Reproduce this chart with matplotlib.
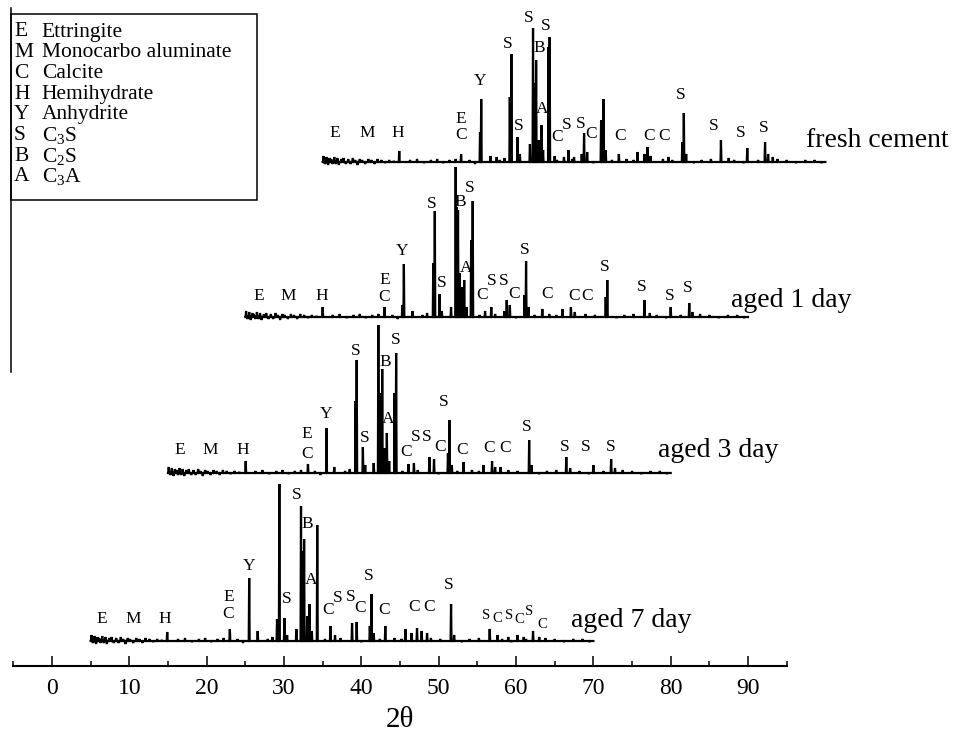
import matplotlib
matplotlib.use('Agg')
import matplotlib.pyplot as plt
from matplotlib.lines import Line2D
from matplotlib.patches import Rectangle

plt.rcParams['font.family'] = ['Liberation Serif', 'DejaVu Serif']
plt.rcParams['mathtext.fontset'] = 'custom'
plt.rcParams['mathtext.rm'] = 'Liberation Serif'
plt.rcParams['mathtext.it'] = 'Liberation Serif:italic'

# ---------------- data ----------------
sample_names = ['fresh cement', 'aged 1 day', 'aged 3 day', 'aged 7 day']
x_shift = [30, 20, 10, 0]            # horizontal stacking offset (deg)
y_base = [504, 349, 193, 25]          # vertical stacking offset (a.u.)
two_theta_start, two_theta_end = 5.0, 70.0

# peak lists (2theta, intensity above baseline, a.u.)
fresh_pos = [14.9, 22.9, 25.35, 25.5, 26.7, 27.5, 29.2, 29.4, 30.2, 30.5, 31.8, 32.2, 32.4, 32.6,
             32.9, 33.3, 33.5, 34.2, 34.35, 35.0, 36.2, 36.8, 37.5, 38.5, 38.8, 39.2, 41.0, 41.3,
             41.6, 43.3, 45.7, 46.6, 47.0, 47.4, 49.7, 51.5, 51.7, 52.0, 56.5, 57.5, 59.9, 62.2,
             62.6, 63.2]
fresh_int = [11, 8, 30, 63, 6, 5, 65, 108, 25, 8, 18, 134, 79, 102,
             22, 37, 12, 115, 125, 6, 5, 12, 5, 8, 29, 10, 42, 63,
             12, 8, 10, 8, 15, 6, 5, 20, 49, 8, 22, 4, 14, 20,
             8, 5]

day1_pos = [15.0, 23.0, 25.3, 25.5, 26.6, 29.3, 29.5, 30.1, 30.4, 31.6, 32.2, 32.35, 32.5, 32.7,
            33.0, 33.3, 33.6, 34.2, 34.4, 36.0, 36.8, 38.5, 38.8, 39.2, 41.1, 41.3, 41.6, 43.4,
            46.0, 47.1, 47.6, 51.6, 51.8, 56.6, 57.3, 60.0, 62.4, 62.8]
day1_int = [10, 10, 12, 53, 6, 54, 106, 23, 6, 10, 150, 110, 107, 44,
            30, 37, 10, 77, 116, 6, 10, 6, 17, 12, 22, 56, 10, 8,
            8, 10, 5, 20, 37, 17, 4, 10, 14, 5]

day3_pos = [15.05, 23.1, 25.5, 26.5, 29.25, 29.4, 30.2, 30.5, 31.6, 32.2, 32.45, 32.7, 33.0, 33.3,
            33.6, 34.3, 34.5, 36.1, 36.8, 38.8, 39.4, 41.2, 41.4, 41.7, 43.2, 45.8, 46.9, 47.3,
            48.0, 51.7, 52.0, 56.5, 57.0, 60.0, 62.3, 62.8]
day3_int = [12, 9, 45, 6, 72, 113, 26, 8, 10, 148, 80, 104, 25, 40,
            12, 80, 120, 9, 10, 16, 14, 20, 53, 8, 11, 8, 12, 6,
            6, 33, 8, 16, 5, 8, 14, 5]

day7_pos = [14.9, 23.0, 25.5, 26.6, 29.1, 29.4, 30.05, 30.4, 31.6, 32.2, 32.35, 32.6, 33.0, 33.3,
            33.6, 34.3, 36.0, 36.6, 38.8, 39.4, 41.1, 41.3, 41.6, 43.1, 45.7, 46.5, 47.2, 47.8,
            48.5, 51.6, 52.0, 56.6, 57.6, 59.0, 60.2, 61.0, 62.2, 63.0]
day7_int = [9, 12, 63, 10, 22, 157, 23, 6, 12, 135, 90, 102, 25, 37,
            10, 116, 15, 6, 18, 19, 15, 47, 8, 15, 12, 8, 13, 10,
            8, 37, 6, 12, 6, 4, 6, 4, 10, 4]

# small baseline texture shared by all patterns (2theta, a.u.)
noise_pos = [5.1, 5.3, 5.5, 5.7, 5.9, 6.1, 6.3, 6.5, 6.7, 6.9, 7.1, 7.4, 7.7, 8.0, 8.3, 8.6,
             8.9, 9.2, 9.5, 9.8, 10.1, 10.5, 10.9, 11.3, 11.7, 12.1, 12.6, 13.1, 13.6, 14.2,
             16.3, 17.2, 18.1, 19.0, 19.8, 20.6, 21.4, 22.2, 24.0, 24.7, 27.9, 28.5, 35.3,
             37.3, 40.0, 42.4, 44.3, 45.2, 49.0, 50.2, 53.0, 54.0, 55.2, 58.2, 59.4, 61.3,
             63.8, 65.0, 66.2, 67.4, 68.6, 69.5]
noise_int = [6, -2, 5, -3, 4, 3, -2, 5, -2, 4, -3, 3, 4, -2, 3, -2,
             4, 2, -3, 3, 2, -2, 3, 2, -2, 3, 2, -1, 2, 1,
             2, 3, -1, 2, 3, -1, 2, 3, 2, -2, 2, 4, 2,
             3, -1, 2, 3, 2, 3, 2, -1, 2, 3, 2, -1, 2,
             3, 2, -1, 2, 2, -1]

# phase labels: (letter, 2theta, height above baseline)
fresh_labels = [('E', 6.6, 31), ('M', 10.7, 31), ('H', 14.7, 31), ('E', 22.9, 45), ('C', 22.9, 29),
                ('Y', 25.4, 83), ('S', 28.9, 120), ('S', 30.3, 38), ('S', 31.6, 146), ('B', 33.0, 116),
                ('S', 33.8, 138), ('A', 33.4, 55), ('C', 35.3, 27), ('S', 36.5, 39), ('S', 38.4, 40),
                ('C', 39.7, 30), ('C', 43.5, 28), ('C', 47.2, 28), ('C', 49.1, 28), ('S', 51.3, 69),
                ('S', 55.6, 38), ('S', 59.1, 31), ('S', 62.0, 36)]
day1_labels = [('E', 6.7, 23), ('M', 10.6, 23), ('H', 14.9, 23), ('E', 23.0, 39), ('C', 23.0, 22),
               ('Y', 25.3, 68), ('S', 29.1, 115), ('S', 30.4, 36), ('B', 32.8, 117), ('S', 34.0, 131),
               ('A', 33.6, 51), ('C', 35.6, 24), ('S', 36.8, 38), ('S', 38.4, 38), ('C', 39.8, 25),
               ('S', 41.1, 69), ('C', 44.0, 25), ('C', 47.5, 23), ('C', 49.2, 23), ('S', 51.5, 52),
               ('S', 56.3, 32), ('S', 59.9, 23), ('S', 62.2, 31)]
day3_labels = [('E', 6.5, 25), ('M', 10.4, 25), ('H', 14.7, 25), ('E', 23.0, 41), ('C', 23.0, 21),
               ('Y', 25.5, 61), ('S', 29.3, 124), ('S', 30.5, 37), ('B', 33.1, 113), ('S', 34.4, 135),
               ('A', 33.5, 56), ('C', 35.8, 23), ('S', 37.0, 38), ('S', 38.5, 38), ('C', 40.2, 28),
               ('S', 40.7, 73), ('C', 43.0, 25), ('C', 46.5, 27), ('C', 48.6, 27), ('S', 51.4, 48),
               ('S', 56.3, 28), ('S', 59.0, 28), ('S', 62.2, 28)]
day7_labels = [('E', 6.4, 24), ('M', 10.5, 24), ('H', 14.6, 24), ('E', 22.8, 46), ('C', 22.8, 29),
               ('Y', 25.5, 77), ('S', 30.3, 44), ('S', 31.7, 148), ('B', 33.0, 119), ('A', 33.5, 63),
               ('C', 35.75, 33), ('S', 37.0, 45), ('S', 38.6, 46), ('C', 39.9, 35), ('S', 40.9, 67),
               ('C', 43.0, 33), ('C', 46.8, 36), ('C', 48.7, 36), ('S', 51.3, 58)]
day7_small_labels = [('S', 56.2, 27), ('C', 57.6, 24), ('S', 59.1, 27), ('C', 60.4, 23),
                     ('S', 61.7, 31), ('C', 63.4, 18)]
name_pos = [67.5, 67.8, 68.3, 67.1]        # 2theta where sample name starts
name_height = [15, 10, 16, 14]             # baseline of name above pattern baseline

legend_keys = ['E', 'M', 'C', 'H', 'Y', 'S', 'B', 'A']
legend_names = ['Ettringite', 'Monocarbo aluminate', 'Calcite', 'Hemihydrate', 'Anhydrite',
                'C$_3$S', 'C$_2$S', 'C$_3$A']

xticks = [0, 10, 20, 30, 40, 50, 60, 70, 80, 90]
xminor = [-5, 5, 15, 25, 35, 45, 55, 65, 75, 85, 95]

peaks = [(fresh_pos, fresh_int), (day1_pos, day1_int), (day3_pos, day3_int), (day7_pos, day7_int)]
labels = [fresh_labels, day1_labels, day3_labels, day7_labels]

# ---------------- figure ----------------
W, H = 957, 742
fig = plt.figure(figsize=(W / 100, H / 100), dpi=100)
ax = fig.add_axes([13.3 / W, 76 / H, (786.7 - 13.3) / W, 666 / H])
ax.set_xlim(-5, 95)
ax.set_ylim(0, 666)


def build_trace(pos, hts, w=0.06):
    items = sorted(list(zip(pos, hts)) + list(zip(noise_pos, noise_int)))
    xs, ys = [two_theta_start], [0.0]
    for p, h in items:
        if p - w <= xs[-1]:
            xs += [p, p + w]
            ys += [h, 0.0]
        else:
            xs += [p - w, p, p + w]
            ys += [0.0, h, 0.0]
    xs.append(two_theta_end)
    ys.append(0.0)
    return xs, ys


for i, (pos, hts) in enumerate(peaks):
    xs, ys = build_trace(pos, hts)
    ax.plot([x + x_shift[i] for x in xs], [y + y_base[i] for y in ys],
            color='black', lw=1.6, clip_on=False, solid_joinstyle='miter')
    for (ch, tt, hh) in labels[i]:
        ax.text(tt + x_shift[i], y_base[i] + hh, ch, ha='center', va='center_baseline',
                fontsize=12.5, clip_on=False)
    ax.text(name_pos[i] + x_shift[i], y_base[i] + name_height[i], sample_names[i],
            ha='left', va='baseline', fontsize=20, clip_on=False)

for (ch, tt, hh) in day7_small_labels:
    ax.text(tt + x_shift[3], y_base[3] + hh, ch, ha='center', va='center_baseline',
            fontsize=10.5, clip_on=False)

for s in ['left', 'right', 'top']:
    ax.spines[s].set_visible(False)
ax.spines['bottom'].set_linewidth(1.5)
ax.set_yticks([])
ax.set_xticks(xticks)
ax.set_xticklabels([str(t) for t in xticks], fontsize=17)
ax.set_xticks(xminor, minor=True)
ax.tick_params(axis='x', which='major', direction='in', length=7.2, width=1.1, pad=9)
ax.tick_params(axis='x', which='minor', direction='in', length=3.6, width=1.1)
ax.set_xlabel('2θ', fontsize=21)
ax.xaxis.set_label_coords(0.5, (666 - 720) / 666)
ax.xaxis.label.set_va('center')
ax.patch.set_visible(False)

# left border line and legend box (pixel coordinates)
def fx(px):
    return px / W

def fy(py):
    return 1 - py / H

fig.add_artist(Line2D([fx(10.7), fx(10.7)], [fy(8), fy(372)], color='black', lw=1.1))
fig.add_artist(Rectangle((fx(10.7), fy(200)), fx(257) - fx(10.7), fy(14) - fy(200),
                         fill=False, edgecolor='black', lw=1.1))
row_y = [29.5, 50.2, 70.9, 91.6, 112.3, 133.0, 153.7, 174.4]
for k, nm, ry in zip(legend_keys, legend_names, row_y):
    fig.text(fx(14), fy(ry), k, ha='left', va='center_baseline', fontsize=15.5)
    fig.text(fx(41.7), fy(ry), nm, ha='left', va='center_baseline', fontsize=15.5)

fig.savefig('out.png', dpi=100)
